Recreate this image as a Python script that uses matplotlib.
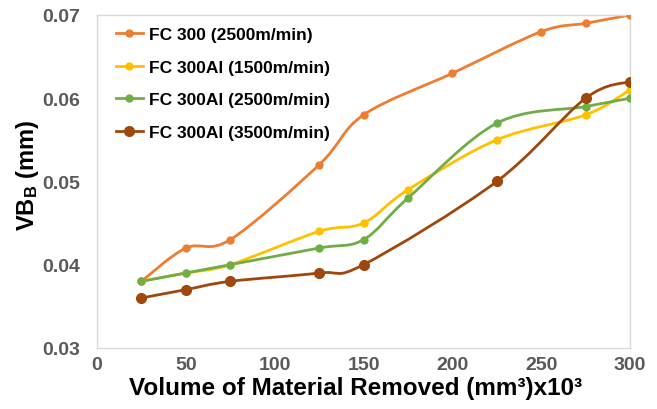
import numpy as np
import matplotlib
matplotlib.use("Agg")
import matplotlib.pyplot as plt
from matplotlib.path import Path
from matplotlib.patches import PathPatch
from matplotlib.lines import Line2D

plt.rcParams["font.family"] = ["Liberation Sans", "DejaVu Sans"]
plt.rcParams["font.weight"] = "bold"
plt.rcParams["mathtext.fontset"] = "custom"
plt.rcParams["mathtext.rm"] = "Liberation Sans:bold"
plt.rcParams["mathtext.default"] = "rm"

# Data
x_fc300 = [25, 50, 75, 125, 150, 200, 250, 275, 300]
y_fc300 = [0.038, 0.042, 0.043, 0.052, 0.058, 0.063, 0.068, 0.069, 0.070]

x_al1500 = [25, 50, 75, 125, 150, 175, 225, 275, 300]
y_al1500 = [0.038, 0.039, 0.040, 0.044, 0.045, 0.049, 0.055, 0.058, 0.061]

x_al2500 = [25, 50, 75, 125, 150, 175, 225, 275, 300]
y_al2500 = [0.038, 0.039, 0.040, 0.042, 0.043, 0.048, 0.057, 0.059, 0.060]

x_al3500 = [25, 50, 75, 125, 150, 225, 275, 300]
y_al3500 = [0.036, 0.037, 0.038, 0.039, 0.040, 0.050, 0.060, 0.062]

series = [
    ("FC 300 (2500m/min)", x_fc300, y_fc300, "#ED7D31", 5),
    ("FC 300Al (1500m/min)", x_al1500, y_al1500, "#FFC000", 5),
    ("FC 300Al (2500m/min)", x_al2500, y_al2500, "#70AD47", 5),
    ("FC 300Al (3500m/min)", x_al3500, y_al3500, "#9E480E", 7),
]


def smooth_path(xs, ys):
    # excel style smoothed line as bezier segments through the points
    pts = np.column_stack([xs, ys]).astype(float)
    verts = [pts[0]]
    codes = [Path.MOVETO]
    n = len(pts)
    for i in range(n - 1):
        p0 = pts[max(i - 1, 0)]
        p1 = pts[i]
        p2 = pts[i + 1]
        p3 = pts[min(i + 2, n - 1)]
        verts += [p1 + (p2 - p0) / 6, p2 - (p3 - p1) / 6, p2]
        codes += [Path.CURVE4] * 3
    return Path(verts, codes)


fig = plt.figure(figsize=(6.57, 4.10), dpi=100)
ax = fig.add_axes([0.1476, 0.149, 0.8114, 0.812])

handles = []
for label, xs, ys, c, ms in series:
    ax.add_patch(PathPatch(smooth_path(xs, ys), fill=False, edgecolor=c, lw=2, zorder=2))
    ax.plot(xs, ys, linestyle="none", marker="o", color=c, ms=ms, zorder=3)
    handles.append(Line2D([], [], color=c, lw=2, marker="o", ms=ms))

ax.set_xlim(0, 300)
ax.set_ylim(0.03, 0.07)
ax.set_xticks(np.arange(0, 301, 50))
ax.set_yticks([0.03, 0.04, 0.05, 0.06, 0.07])
ax.set_yticklabels(["0.03", "0.04", "0.05", "0.06", "0.07"])
ax.tick_params(length=0, labelsize=14, labelcolor="#595959")
ax.tick_params(axis="y", pad=12)
ax.tick_params(axis="x", pad=6)
for sp in ax.spines.values():
    sp.set_color("#D9D9D9")
    sp.set_linewidth(1)

ax.set_xlabel("Volume of Material Removed (mm³)x10³", fontsize=17.5, fontweight="bold")
ax.xaxis.set_label_coords(0.485, -0.085)
ax.set_ylabel(r"VB$_{B}$ (mm)", fontsize=17, fontweight="bold")
ax.yaxis.set_label_coords(-0.105, 0.52)

ax.legend(handles, [s[0] for s in series], loc="upper left", bbox_to_anchor=(0.012, 1.0),
          frameon=False, fontsize=12.5, handlelength=1.6, handletextpad=0.3,
          labelspacing=1.0, borderaxespad=0.3)

fig.savefig("out.png", dpi=100)
